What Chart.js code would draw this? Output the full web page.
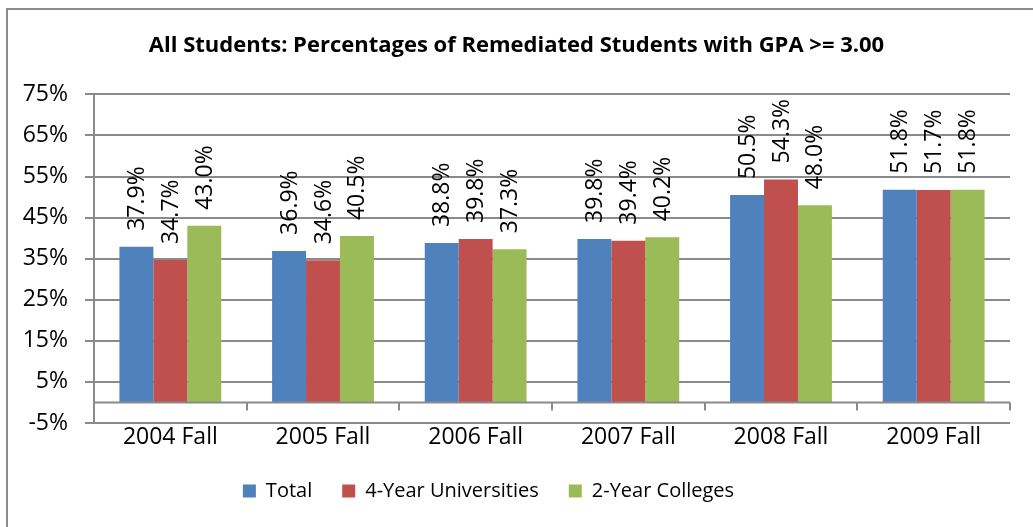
<!DOCTYPE html>
<html>
<head>
<meta charset="utf-8">
<script src="https://cdn.jsdelivr.net/npm/chart.js@4"></script>
<style>
  html, body { margin: 0; padding: 0; background: #fff; }
  #wrap { position: relative; width: 1033px; height: 527px; }
  #frame { position: absolute; left: 6px; top: 8px; right: -4px; bottom: -4px;
           border-left: 2px solid #8c8c8c; border-top: 2px solid #8c8c8c; }
  canvas { position: absolute; left: 0; top: 0; }
</style>
</head>
<body>
<div id="wrap">
  <div id="frame"></div>
  <canvas id="chart" width="1033" height="527"></canvas>
</div>
<script>
const terms = ['2004 Fall', '2005 Fall', '2006 Fall', '2007 Fall', '2008 Fall', '2009 Fall'];
const totalPct = [37.9, 36.9, 38.8, 39.8, 50.5, 51.8];
const univPct = [34.7, 34.6, 39.8, 39.4, 54.3, 51.7];
const collegePct = [43.0, 40.5, 37.3, 40.2, 48.0, 51.8];

const gridGrey = '#8a8a8a';
const fontFamily = '"Open Sans", sans-serif';

// value labels turned on their side, plus the zero line and its category ticks
const excelBits = {
  id: 'excelBits',
  afterLayout(chart) {
    // legend sits a little left of centre in the original
    if (chart.legend) {
      chart.legend.left -= 28;
      chart.legend.right -= 28;
    }
  },
  afterDatasetsDraw(chart) {
    const { ctx, chartArea, scales } = chart;
    const y0 = scales.y.getPixelForValue(0);
    ctx.save();
    ctx.strokeStyle = gridGrey;
    ctx.lineWidth = 2;
    ctx.beginPath();
    ctx.moveTo(chartArea.left, y0);
    ctx.lineTo(chartArea.right, y0);
    const step = (chartArea.right - chartArea.left) / terms.length;
    for (let i = 1; i <= terms.length; i++) {
      const x = Math.round(chartArea.left + i * step);
      ctx.moveTo(x, y0);
      ctx.lineTo(x, y0 + 8);
    }
    ctx.stroke();

    ctx.fillStyle = '#000';
    ctx.font = '23px ' + fontFamily;
    ctx.textAlign = 'left';
    ctx.textBaseline = 'middle';
    chart.data.datasets.forEach((ds, di) => {
      chart.getDatasetMeta(di).data.forEach((bar, i) => {
        ctx.save();
        ctx.translate(bar.x + 1, bar.y - 16);
        ctx.rotate(-Math.PI / 2);
        ctx.fillText(ds.data[i].toFixed(1) + '%', 0, 0);
        ctx.restore();
      });
    });
    ctx.restore();
  }
};

new Chart(document.getElementById('chart').getContext('2d'), {
  type: 'bar',
  data: {
    labels: terms,
    datasets: [
      { label: 'Total', data: totalPct, backgroundColor: '#4F81BD' },
      { label: '4-Year Universities', data: univPct, backgroundColor: '#C0504D' },
      { label: '2-Year Colleges', data: collegePct, backgroundColor: '#9BBB59' }
    ]
  },
  options: {
    responsive: false,
    animation: false,
    events: [],
    layout: { padding: { left: 0, right: 0, top: 0, bottom: 16 } },
    datasets: { bar: { categoryPercentage: 0.667, barPercentage: 1.0 } },
    scales: {
      x: {
        grid: { display: false, drawTicks: false },
        border: { display: false },
        ticks: { color: '#000', font: { family: fontFamily, size: 23, lineHeight: 1.0 }, padding: 2.5 }
      },
      y: {
        min: -5,
        max: 75,
        afterFit(scale) { scale.width = 94; },
        ticks: {
          stepSize: 10,
          color: '#000',
          padding: 17,
          font: { family: fontFamily, size: 23 },
          callback: v => v + '%'
        },
        grid: { color: gridGrey, lineWidth: 2, tickLength: 9 },
        border: { color: gridGrey, width: 2 }
      },
      spacer: {
        position: 'right',
        display: true,
        afterFit(scale) { scale.width = 23; },
        ticks: { display: false },
        grid: { display: false },
        border: { display: false }
      }
    },
    plugins: {
      title: {
        display: true,
        text: 'All Students: Percentages of Remediated Students with GPA >= 3.00',
        color: '#000',
        font: { family: fontFamily, size: 22, weight: 'bold' },
        padding: { top: 33, bottom: 35 }
      },
      legend: {
        position: 'bottom',
        labels: {
          color: '#000',
          font: { family: fontFamily, size: 20 },
          boxWidth: 13,
          boxHeight: 13,
          padding: 30
        }
      },
      tooltip: { enabled: false }
    }
  },
  plugins: [excelBits]
});
</script>
</body>
</html>
